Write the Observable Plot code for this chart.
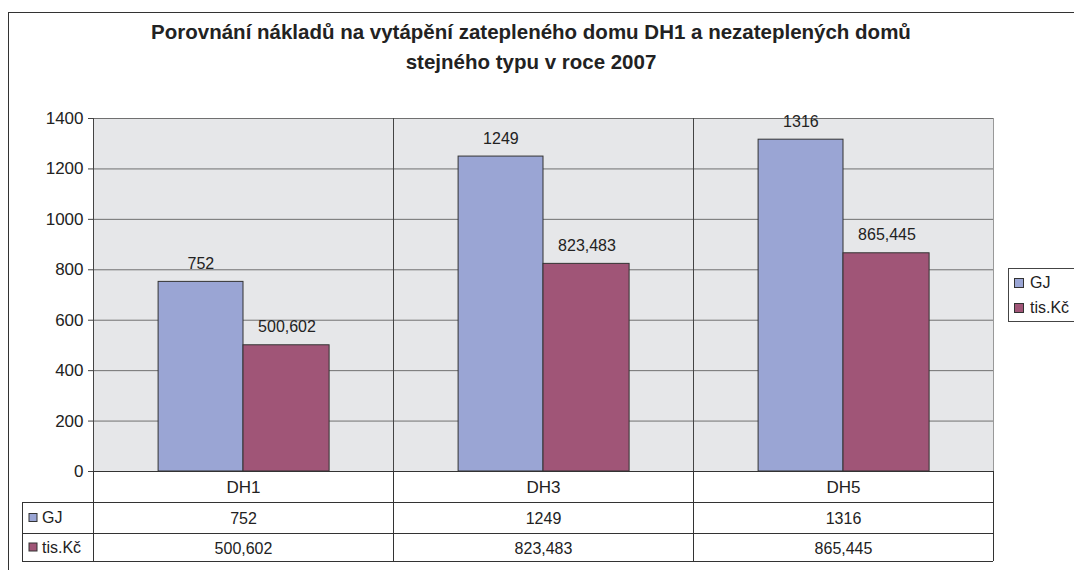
<!DOCTYPE html>
<html>
<head>
<meta charset="utf-8">
<script src="https://cdn.jsdelivr.net/npm/d3@7"></script>
<script src="https://cdn.jsdelivr.net/npm/@observablehq/plot@0.6"></script>
<style>
  html, body { margin: 0; padding: 0; background: #fff; }
  #wrap { position: relative; width: 1074px; height: 570px; overflow: hidden; font-family: "Liberation Sans", Arial, sans-serif; color: #222; }
  #border { position: absolute; left: 8px; top: 12px; width: 1200px; height: 700px; border: 1.5px solid #333; box-sizing: border-box; }
  #title { position: absolute; left: 0; top: 17px; width: 1062px; text-align: center; font-weight: bold; font-size: 20.5px; line-height: 30px; color: #222; }
  #chart { position: absolute; left: 0; top: 0; }
  #legend { position: absolute; left: 1008px; top: 268px; width: 100px; height: 54px; border: 1px solid #444; background: #fff; box-sizing: border-box; font-size: 16px; }
  #legend .item { position: absolute; left: 5px; display: flex; align-items: center; }
  #legend .sw { width: 8px; height: 8px; border: 1px solid #333; margin-right: 6px; }
</style>
</head>
<body>
<div id="wrap">
  <div id="border"></div>
  <div id="chart"></div>
  <div id="title">Porovnání nákladů na vytápění zatepleného domu DH1 a nezateplených domů<br>stejného typu v roce 2007</div>
  <div id="legend"></div>
</div>
<script>
const categories = ["DH1", "DH3", "DH5"];
const seriesNames = ["GJ", "tis.Kč"];
const gjValues = [752, 1249, 1316];
const kcValues = [500.602, 823.483, 865.445];
const gjLabels = ["752", "1249", "1316"];
const kcLabels = ["500,602", "823,483", "865,445"];
const yTicks = [0, 200, 400, 600, 800, 1000, 1200, 1400];
const colors = ["#9aa5d4", "#a05577"];

const W = 1074, H = 570;
const mL = 93, mR = 81, mT = 118, mB = 99;
const bw = (W - mL - mR) / categories.length;

const data = categories.map((c, i) => ({cat: c, gj: gjValues[i], kc: kcValues[i], gjL: gjLabels[i], kcL: kcLabels[i]}));
const font = '"Liberation Sans", Arial, sans-serif';

const plot = Plot.plot({
  width: W, height: H,
  marginLeft: mL, marginRight: mR, marginTop: mT, marginBottom: mB,
  x: {domain: categories, padding: 0, axis: null},
  y: {domain: [0, 1400], axis: null},
  style: {fontFamily: font, fontSize: "15px", background: "transparent", color: "#222"},
  marks: [
    Plot.frame({fill: "#e6e7e9", stroke: null}),
    Plot.gridY(yTicks, {stroke: "#707070", strokeOpacity: 1, strokeWidth: 1}),
    Plot.ruleX(categories.slice(1), {x: d => d, dx: -bw / 2, stroke: "#444", strokeWidth: 1}),
    Plot.ruleX(categories.slice(-1), {x: d => d, dx: bw / 2, stroke: "#999", strokeWidth: 1}),
    Plot.barY(data, {x: "cat", y: "gj", fill: colors[0], stroke: "#333", strokeWidth: 1, insetLeft: bw * 0.217, insetRight: bw * 0.5}),
    Plot.barY(data, {x: "cat", y: "kc", fill: colors[1], stroke: "#333", strokeWidth: 1, insetLeft: bw * 0.5, insetRight: bw * 0.213}),
    Plot.text(data, {x: "cat", y: "gj", text: "gjL", dx: -bw * 0.142, dy: -18, fontSize: 16, fill: "#222"}),
    Plot.text(data, {x: "cat", y: "kc", text: "kcL", dx: bw * 0.145, dy: -18, fontSize: 16, fill: "#222"}),
    Plot.axisY({ticks: yTicks, tickSize: 5, tickPadding: 5, fontSize: 17, tickFormat: d => String(d), stroke: "#444", fill: "#222"}),
    Plot.ruleX([categories[0]], {x: d => d, dx: -bw / 2, y1: 0, y2: 1400, stroke: "#444", strokeWidth: 1}),
    Plot.text(categories, {x: d => d, frameAnchor: "bottom", lineAnchor: "middle", dy: 16, fontSize: 17, fill: "#222"}),
    Plot.text(gjLabels, {x: (d, i) => categories[i], frameAnchor: "bottom", lineAnchor: "middle", dy: 47, fontSize: 16, fill: "#222"}),
    Plot.text(kcLabels, {x: (d, i) => categories[i], frameAnchor: "bottom", lineAnchor: "middle", dy: 77, fontSize: 16, fill: "#222"})
  ]
});
document.getElementById("chart").appendChild(plot);

// Data table grid lines drawn from the plot's x scale
const svg = d3.select(plot);
const xs = plot.scale("x");
const x0 = xs.apply(categories[0]);
const xEnd = xs.apply(categories[categories.length - 1]) + xs.bandwidth;
const yBase = H - mB;
const rows = [yBase, yBase + 31, yBase + 62, yBase + 90];
const tableLeft = 22;
const g = svg.append("g").attr("stroke", "#333").attr("stroke-width", 1).attr("shape-rendering", "crispEdges");
g.append("line").attr("x1", x0).attr("x2", xEnd).attr("y1", rows[0]).attr("y2", rows[0]);
for (let r = 1; r < rows.length; r++) {
  g.append("line").attr("x1", tableLeft).attr("x2", xEnd).attr("y1", rows[r]).attr("y2", rows[r]);
}
const bounds = categories.map(c => xs.apply(c)).concat([xEnd]);
bounds.forEach(b => g.append("line").attr("x1", b).attr("x2", b).attr("y1", rows[0]).attr("y2", rows[3]));
g.append("line").attr("x1", tableLeft).attr("x2", tableLeft).attr("y1", rows[1]).attr("y2", rows[3]);

// series keys in the table
seriesNames.forEach((s, i) => {
  const yc = (rows[i + 1] + rows[i + 2]) / 2;
  svg.append("rect").attr("x", 29).attr("y", yc - 4).attr("width", 8).attr("height", 8)
    .attr("fill", colors[i]).attr("stroke", "#333").attr("stroke-width", 1);
  svg.append("text").attr("x", 42).attr("y", yc).attr("dy", "0.35em").attr("text-anchor", "start")
    .attr("font-family", font).attr("font-size", 16).attr("fill", "#222").text(s);
});

// legend
const legend = d3.select("#legend");
seriesNames.forEach((s, i) => {
  const it = legend.append("div").attr("class", "item").style("top", (5 + i * 25) + "px");
  it.append("div").attr("class", "sw").style("background", colors[i]);
  it.append("span").text(s);
});
</script>
</body>
</html>
